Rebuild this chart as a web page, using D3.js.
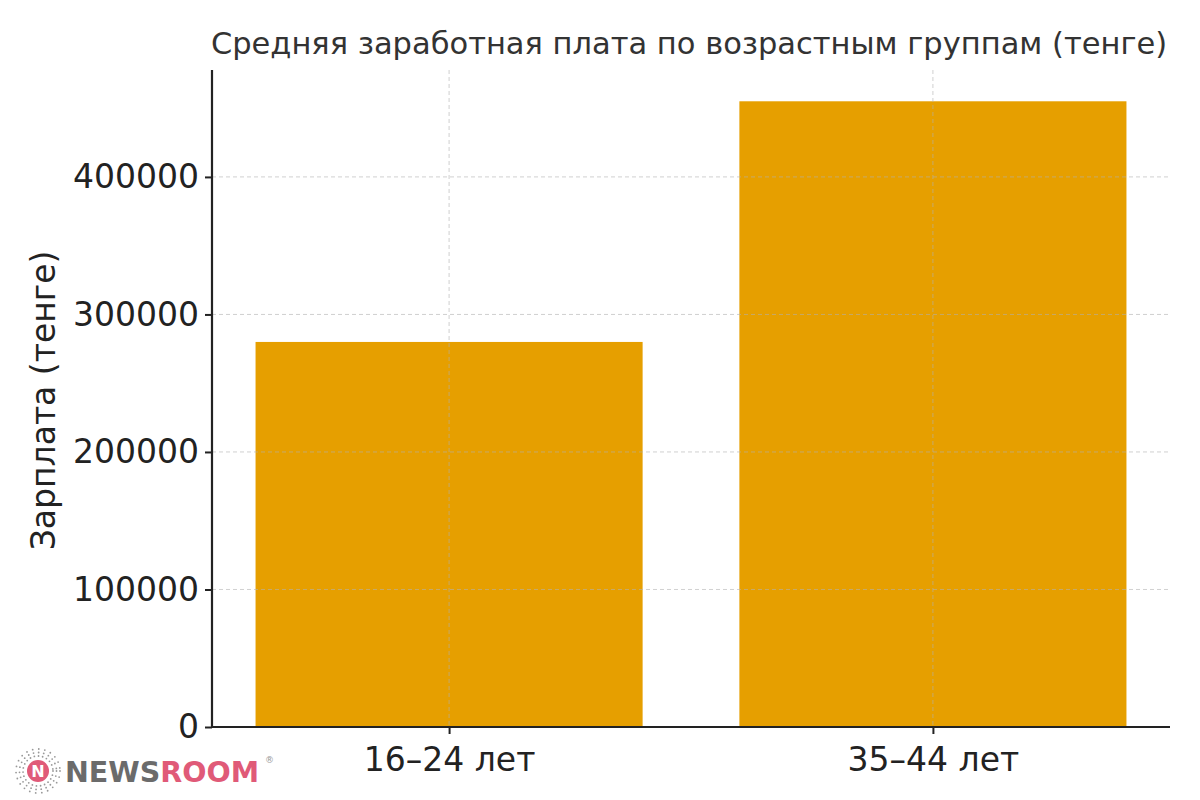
<!DOCTYPE html>
<html><head><meta charset="utf-8">
<script src="https://cdn.jsdelivr.net/npm/d3@7"></script>
<style>body{margin:0;background:#fff}svg{display:block}</style>
</head><body>
<script>
const categories = ["16–24 лет", "35–44 лет"];
const salaries = [280000, 455000];
const yTicks = [0, 100000, 200000, 300000, 400000];
const title = "Средняя заработная плата по возрастным группам (тенге)";
const yLabel = "Зарплата (тенге)";

const W = 1200, H = 800;
const m = {left: 212, right: 1170, top: 70, bottom: 727};
const svg = d3.select("body").append("svg").attr("width", W).attr("height", H)
  .style("font-family", "DejaVu Sans, sans-serif");

const x = d3.scaleLinear().domain([-0.49, 1.49]).range([m.left, m.right]);
const y = d3.scaleLinear().domain([0, d3.max(salaries) * 1.05]).range([m.bottom, m.top]);
const bw = x(0.4) - x(-0.4);

// bars
svg.selectAll("rect.bar").data(salaries).enter().append("rect")
  .attr("x", (d, i) => x(i) - bw / 2).attr("width", bw)
  .attr("y", d => y(d)).attr("height", d => y(0) - y(d))
  .attr("fill", "#E69F00");

// grid
const grid = svg.append("g").attr("stroke", "#b0b0b0").attr("stroke-opacity", 0.6)
  .attr("stroke-width", 1).attr("stroke-dasharray", "4,3");
grid.selectAll("line.h").data(yTicks).enter().append("line")
  .attr("x1", m.left).attr("x2", m.right).attr("y1", d => y(d)).attr("y2", d => y(d));
grid.selectAll("line.v").data(categories).enter().append("line")
  .attr("x1", (d, i) => x(i)).attr("x2", (d, i) => x(i)).attr("y1", m.top).attr("y2", m.bottom);

// axes
const yAxis = d3.axisLeft(y).tickValues(yTicks).tickFormat(d3.format("d")).tickSize(7).tickPadding(6);
const gy = svg.append("g").attr("transform", `translate(${m.left},0)`).call(yAxis);
const xAxis = d3.axisBottom(x).tickValues([0, 1]).tickFormat(i => categories[i]).tickSize(7).tickPadding(7);
const gx = svg.append("g").attr("transform", `translate(0,${m.bottom})`).call(xAxis);
[gx, gy].forEach(g => {
  g.select(".domain").attr("stroke", "#222").attr("stroke-width", 2.2);
  g.selectAll(".tick line").attr("stroke", "#222").attr("stroke-width", 2);
  g.selectAll(".tick text").attr("fill", "#222").style("font-size", "33px")
   .style("font-family", "DejaVu Sans, sans-serif");
});
gy.select(".domain").attr("d", `M0,${m.top}V${m.bottom}`);
gx.select(".domain").attr("d", `M${m.left},0H${m.right}`);
gx.selectAll(".tick text").attr("dy", "0.9em");

// title
svg.append("text").attr("x", (m.left + m.right) / 2 - 2).attr("y", 54)
  .attr("text-anchor", "middle").attr("fill", "#333").style("font-size", "30.5px")
  .text(title);

// y label
svg.append("text").attr("transform", `translate(55,${(m.top + m.bottom) / 2 + 2}) rotate(-90)`)
  .attr("text-anchor", "middle").attr("fill", "#222").style("font-size", "33px")
  .text(yLabel);

// logo
const logo = svg.append("g").attr("transform", "translate(38,771)");
const dots = [];
for (let r = 15; r <= 22; r += 3.5) for (let a = 0; a < 360; a += 16) dots.push([r, a]);
logo.selectAll("circle.dot").data(dots).enter().append("circle")
  .attr("cx", d => d[0] * Math.cos(d[1] * Math.PI / 180))
  .attr("cy", d => d[0] * Math.sin(d[1] * Math.PI / 180))
  .attr("r", 0.9).attr("fill", "#999");
logo.append("circle").attr("r", 11).attr("fill", "#e05a78");
logo.append("text").attr("x", 0).attr("y", 6).attr("text-anchor", "middle")
  .attr("fill", "#fff").style("font-size", "16px").style("font-weight", "bold").text("N");
const lt = svg.append("text").attr("x", 65).attr("y", 782).style("font-size", "28.5px")
  .style("font-weight", "bold").style("font-family", "DejaVu Sans, sans-serif");
lt.append("tspan").attr("fill", "#6b6b6b").text("NEWS");
lt.append("tspan").attr("fill", "#e05a78").text("ROOM");
svg.append("text").attr("x", 265).attr("y", 763).style("font-size", "9px").attr("fill", "#999").text("®");
</script>
</body></html>
